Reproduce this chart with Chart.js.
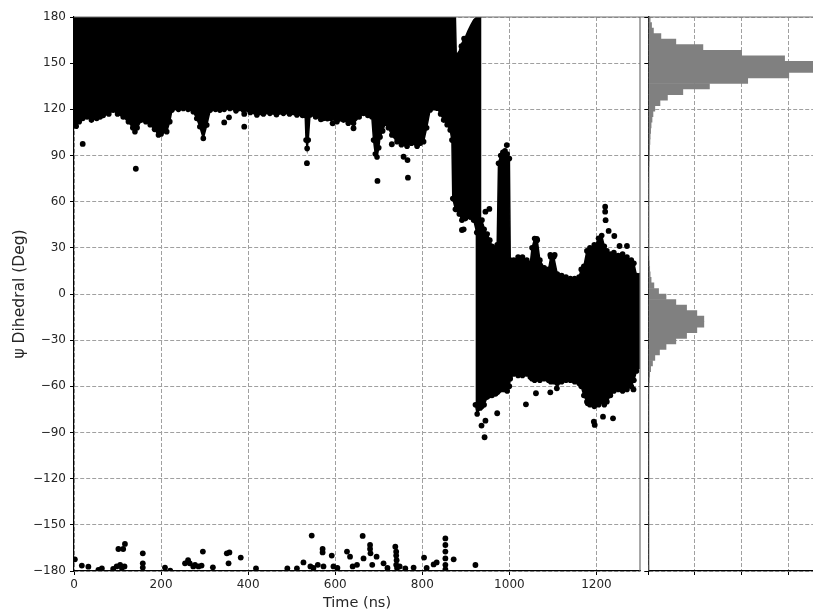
<!DOCTYPE html>
<html>
<head>
<meta charset="utf-8">
<script src="https://cdn.jsdelivr.net/npm/chart.js@4"></script>
<style>
  html, body { margin: 0; padding: 0; background: #fff; overflow: hidden; }
  #wrap { position: relative; width: 813px; height: 613px; overflow: hidden; }
  #main { position: absolute; left: 0; top: 0; }
  #hist { position: absolute; left: 640px; top: 0; }
</style>
</head>
<body>
<div id="wrap">
  <canvas id="main" width="650" height="613"></canvas>
  <canvas id="hist" width="210" height="613"></canvas>
</div>
<script>
// tick positions
const timeTicks = [0, 200, 400, 600, 800, 1000, 1200];
const psiTicks = [-180, -150, -120, -90, -60, -30, 0, 30, 60, 90, 120, 150, 180];
const histTicks = [0, 1, 2, 3, 4];

// first state (psi ~ 150), sampled envelope of the trajectory
const upperTime = [
  0, 5, 12, 20, 30, 40, 52, 60, 67, 80,
  90, 100, 113, 125, 135, 140, 145, 155, 165, 175,
  185, 194, 200, 213, 220, 225, 240, 251, 262, 274,
  282, 289, 297, 305, 313, 325, 335, 345, 358, 372,
  389, 405, 420, 435, 450, 465, 481, 495, 512, 525,
  531, 533, 535.5, 538, 542, 555, 573, 590, 604, 619,
  630, 642, 655, 665, 675, 684, 688, 692, 696, 700,
  703, 709, 715, 722, 730, 742, 752, 765, 775, 788,
  795, 803, 810, 818, 826, 834, 842, 849, 857, 864,
  868, 870, 876, 878, 885, 891, 899, 905, 910, 912,
  918, 925, 933, 936
];
const upperLow = [
  111, 109, 112, 114, 115, 113, 114, 115, 116, 117,
  119.5, 117, 115, 112, 108, 105.5, 108, 113, 112, 110,
  107, 103.3, 104, 105.5, 112, 119.5, 120, 120.6, 120, 118.5,
  114, 108.7, 101.1, 109.8, 119.5, 120, 119.5, 120, 120.6, 119,
  119.5, 118, 116.3, 117, 117.4, 116.5, 117.4, 117, 116.3, 116,
  116, 100, 94.6, 100, 116.3, 115, 114, 114, 112, 113,
  111, 111, 115, 117.4, 116, 115.2, 100, 91, 89, 95,
  102, 106, 111, 108, 103.3, 99, 97, 96, 98, 96,
  98, 99, 108, 119.6, 121, 120.7, 117, 113, 110, 106.6,
  100, 62, 55, 55, 52, 48, 49, 51, 50, 50,
  48, 40, 40, 44
];
const upperHigh = [
  180, 180, 180, 180, 180, 180, 180, 180, 180, 180,
  180, 180, 180, 180, 180, 180, 180, 180, 180, 180,
  180, 180, 180, 180, 180, 180, 180, 180, 180, 180,
  180, 180, 180, 180, 180, 180, 180, 180, 180, 180,
  180, 180, 180, 180, 180, 180, 180, 180, 180, 180,
  180, 180, 180, 180, 180, 180, 180, 180, 180, 180,
  180, 180, 180, 180, 180, 180, 180, 180, 180, 180,
  180, 180, 180, 180, 180, 180, 180, 180, 180, 180,
  180, 180, 180, 180, 180, 180, 180, 180, 180, 180,
  180, 180, 180, 155, 158, 163, 167, 171, 174, 175,
  178, 180, 180, 180
];

// second state (psi ~ -20)
const lowerTime = [
  922, 926, 933, 937, 942, 949, 955, 960, 968, 972,
  975, 980, 985, 990, 995, 1000, 1002, 1010, 1020, 1030,
  1040, 1048, 1052, 1058, 1064, 1070, 1080, 1090, 1095, 1102,
  1110, 1120, 1130, 1140, 1150, 1160, 1165, 1171, 1178, 1185,
  1195, 1205, 1212, 1218, 1224, 1232, 1240, 1250, 1260, 1270,
  1280, 1286, 1292, 1300
];
const lowerLow = [
  -72, -78, -74, -73, -72, -67, -66, -66, -65, -64,
  -63, -62, -62, -62, -63, -60, -55, -52, -53, -53,
  -52, -54, -55, -56, -55, -56, -55, -56, -57, -57,
  -58, -57, -56, -56, -57, -58, -60, -66, -70, -72,
  -73, -72, -70, -72, -70, -66, -63, -62, -63, -62,
  -60, -56, -50, -47
];
const lowerHigh = [
  50, 48, 45, 48, 42, 39, 35, 31, 30, 32,
  85, 90, 92, 93, 91, 88, 22, 22, 24, 24,
  22, 20, 30, 36, 35, 22, 17, 16, 24, 24,
  13, 12, 11, 10, 10, 11, 16, 18, 28, 30,
  32, 33, 38, 31, 28, 26, 27, 25, 26, 24,
  22, 20, 12, 12
];

// isolated frames away from the two bands
const strayTime = [
  20, 142, 345, 356, 391, 391, 535, 567, 582, 594,
  642, 697, 730, 757, 766, 767, 884, 890, 896, 891,
  895, 945, 954, 956, 994, 1063, 1094, 1104, 1205, 1220,
  1220, 1221, 1228, 1241, 1253, 1270,
  936, 943, 945, 972, 1038, 1061, 1094, 1109, 1180, 1194,
  1196, 1215, 1238, 1285,
  2, 18, 33, 56, 64, 90, 98, 102, 106, 113,
  117, 110, 116, 158, 158, 158, 209, 221, 255, 262,
  266, 274, 278, 286, 293, 296, 319, 351, 357, 355,
  383, 418, 490, 512, 527, 543, 550, 560, 546, 571,
  571, 573, 592, 596, 605, 627, 634, 640, 650, 663,
  665, 680, 680, 681, 685, 695, 711, 720, 738, 740,
  740, 741, 740, 742, 748, 761, 780, 804, 810, 826,
  833, 853, 853, 853, 853, 853, 853, 872, 922
];
const strayPsi = [
  97.5, 81.4, 111.5, 114.8, 117, 108.7, 85, 113.5, 114, 110.9,
  107.7, 73.5, 97.3, 89.2, 87, 75.6, 154, 161, 166, 41.6,
  42, 53.5, 55.3, 28.6, 96.8, 35.8, 25.4, 25.4, 36.2, 56.7,
  53.5, 48, 41, 37.7, 31.2, 31.2,
  -85.5, -93.1, -82.3, -77.5, -71.7, -64.5, -63.9, -61.3, -71, -83,
  -85.1, -79.7, -80.8, -62,
  -172.4, -176.5, -177.2, -179.3, -178.3, -178.7, -177, -165.7, -176, -165.7,
  -162.4, -178, -177, -168.5, -175, -177.8, -177.8, -179.8, -175, -173,
  -175, -177, -176, -177, -176.5, -167.4, -177.6, -168.5, -167.9, -175,
  -171.3, -178.3, -178.3, -178.3, -174.4, -177, -178, -176, -157, -165.7,
  -167.9, -177, -170, -177, -178, -167.4, -170.7, -177, -176, -157.2,
  -171.8, -163.1, -165.7, -168.5, -176, -170.7, -175, -178, -164.2, -167.5,
  -170, -173, -176, -178, -177, -178.3, -177.8, -171.3, -178, -175.7,
  -174.4, -158.8, -163.1, -167.4, -171.8, -176, -179, -172.4, -176.1
];

// psi histogram, 3.6 degree bins from -180 to 180
const binStart = -180;
const binWidth = 3.6;
const histDensity = [
  0.004, 0, 0, 0, 0, 0, 0, 0, 0, 0,
  0, 0, 0, 0, 0, 0, 0, 0, 0, 0,
  0, 0, 0, 0, 0, 0, 0, 0, 0, 0,
  0, 0, 0.005, 0.01, 0.02, 0.03, 0.05, 0.09, 0.14, 0.24,
  0.38, 0.59, 0.82, 1.04, 1.19, 1.19, 1.04, 0.82, 0.59, 0.38,
  0.22, 0.12, 0.06, 0.04, 0.03, 0.02, 0.01, 0.005, 0.003, 0.003,
  0.003, 0.003, 0.003, 0.003, 0.003, 0.003, 0.003, 0.003, 0.003, 0.003,
  0.005, 0.008, 0.01, 0.015, 0.02, 0.025, 0.03, 0.035, 0.04, 0.05,
  0.06, 0.08, 0.1, 0.14, 0.25, 0.41, 0.74, 1.31, 2.13, 3.01,
  3.8, 3.9, 2.92, 2.0, 1.17, 0.59, 0.27, 0.11, 0.07, 0.04
];
const binCenters = histDensity.map((d, i) => binStart + binWidth * (i + 0.5));

Chart.defaults.font.family = "'DejaVu Sans', sans-serif";
Chart.defaults.color = '#262626';

const gridColor = '#a0a0a0';
const minus = v => String(v).replace('-', '\u2212');
const toPoints = (xs, ys) => xs.map((x, i) => ({ x: x, y: ys[i] }));

// gray top/right spines
const frame = {
  id: 'frame',
  afterDraw(chart, args, opts) {
    const { ctx, chartArea: a } = chart;
    ctx.save();
    ctx.strokeStyle = '#707070';
    ctx.lineWidth = 1.2;
    ctx.beginPath();
    ctx.moveTo(a.left, a.top);
    ctx.lineTo(chart.width, a.top);
    if (opts.right) {
      ctx.moveTo(a.right, a.top);
      ctx.lineTo(a.right, a.bottom);
    }
    ctx.stroke();
    ctx.restore();
  }
};

const band = (xs, ys, fill, radius) => ({
  data: toPoints(xs, ys),
  showLine: true,
  borderColor: '#000',
  backgroundColor: '#000',
  borderWidth: 1.5,
  pointRadius: radius,
  pointBackgroundColor: '#000',
  pointBorderWidth: 0,
  fill: fill
});

new Chart(document.getElementById('main'), {
  type: 'scatter',
  data: {
    datasets: [
      band(upperTime, upperHigh, '+1', 0),
      band(upperTime, upperLow, false, 2.8),
      band(lowerTime, lowerHigh, '+1', 2.8),
      band(lowerTime, lowerLow, false, 2.8),
      {
        data: toPoints(strayTime, strayPsi),
        pointRadius: 2.9,
        pointBackgroundColor: '#000',
        pointBorderWidth: 0
      }
    ]
  },
  options: {
    responsive: false,
    animation: false,
    layout: { padding: { top: 17, right: 10, left: 0, bottom: 0 } },
    plugins: { legend: { display: false }, tooltip: { enabled: false }, frame: { right: true } },
    scales: {
      x: {
        type: 'linear', min: 0, max: 1300, bounds: 'data',
        afterBuildTicks: s => { s.ticks = timeTicks.map(v => ({ value: v })); },
        afterFit: s => { s.height = 42; },
        ticks: { font: { size: 12 }, padding: 3, maxRotation: 0, callback: v => String(v) },
        grid: { color: gridColor, tickColor: '#000', tickLength: 4, tickBorderDash: [] },
        border: { color: '#000', width: 1.2, dash: [4, 2] },
        title: { display: true, text: 'Time (ns)', font: { size: 14.5 }, padding: { top: 0, bottom: 1 } }
      },
      y: {
        type: 'linear', min: -180, max: 180,
        afterBuildTicks: s => { s.ticks = psiTicks.map(v => ({ value: v })); },
        afterFit: s => { s.width = 74; },
        ticks: { font: { size: 12 }, padding: 4, callback: v => minus(v) },
        grid: { color: gridColor, tickColor: '#000', tickLength: 4, tickBorderDash: [] },
        border: { color: '#000', width: 1.2, dash: [4, 2] },
        title: { display: true, text: 'ψ Dihedral (Deg)', font: { size: 15.5 }, padding: { top: 11, bottom: 0 } }
      }
    }
  },
  plugins: [frame]
});

new Chart(document.getElementById('hist'), {
  type: 'bar',
  data: {
    datasets: [{
      data: toPoints(histDensity, binCenters),
      backgroundColor: '#808080',
      borderWidth: 0,
      barPercentage: 1,
      categoryPercentage: 1
    }]
  },
  options: {
    indexAxis: 'y',
    responsive: false,
    animation: false,
    layout: { padding: { top: 17, right: 15, left: 0, bottom: 0 } },
    plugins: { legend: { display: false }, tooltip: { enabled: false }, frame: { right: false } },
    scales: {
      x: {
        type: 'linear', min: 0, max: 4, bounds: 'data',
        afterBuildTicks: s => { s.ticks = histTicks.map(v => ({ value: v })); },
        afterFit: s => { s.height = 42; },
        ticks: { display: false },
        grid: { color: gridColor, tickColor: '#000', tickLength: 4, tickBorderDash: [] },
        border: { color: '#000', width: 1.2, dash: [4, 2] }
      },
      y: {
        type: 'linear', min: -180, max: 180, offset: false,
        afterBuildTicks: s => { s.ticks = psiTicks.map(v => ({ value: v })); },
        afterFit: s => { s.width = 8.3; },
        ticks: { display: false },
        grid: { offset: false, color: gridColor, tickColor: '#000', tickLength: 4, tickBorderDash: [] },
        border: { color: '#000', width: 1.2, dash: [4, 2] }
      }
    }
  },
  plugins: [frame]
});
</script>
</body>
</html>
